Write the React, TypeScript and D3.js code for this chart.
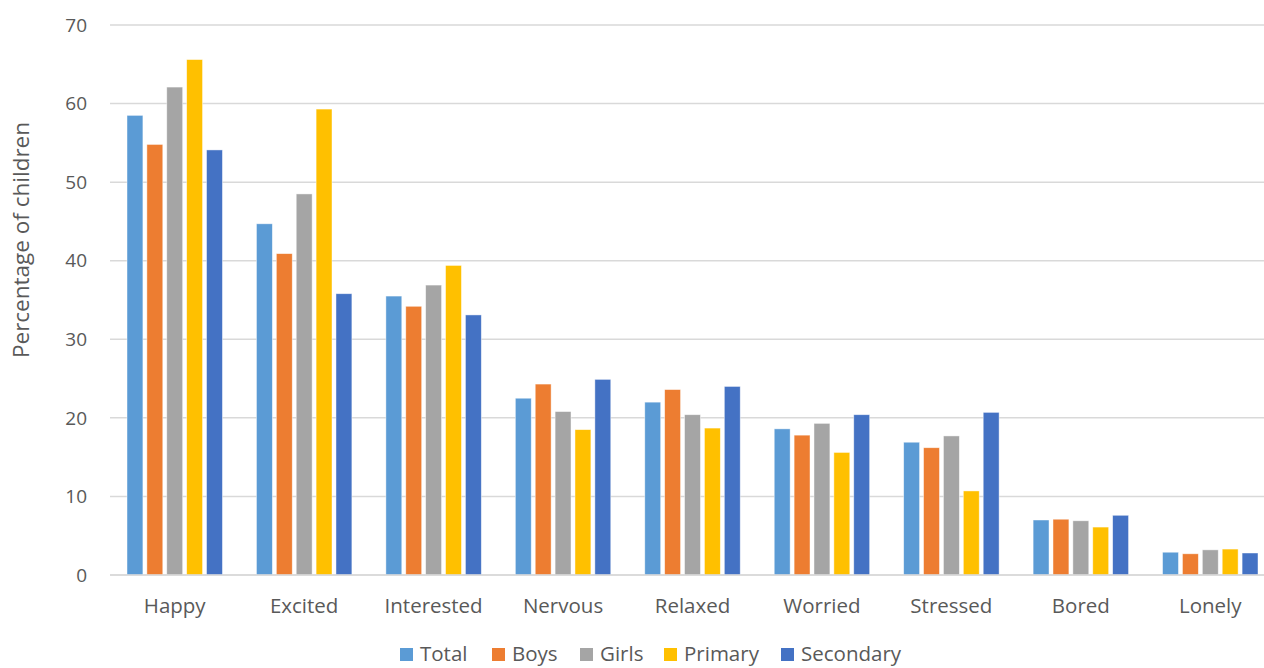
import React from "react";
import * as d3 from "d3";

const categories = ["Happy", "Excited", "Interested", "Nervous", "Relaxed", "Worried", "Stressed", "Bored", "Lonely"];
const seriesNames = ["Total", "Boys", "Girls", "Primary", "Secondary"];
const total = [58.5, 44.7, 35.5, 22.5, 22.0, 18.6, 16.9, 7.0, 2.9];
const boys = [54.8, 40.9, 34.2, 24.3, 23.6, 17.8, 16.2, 7.1, 2.7];
const girls = [62.1, 48.5, 36.9, 20.8, 20.4, 19.3, 17.7, 6.9, 3.2];
const primary = [65.6, 59.3, 39.4, 18.5, 18.7, 15.6, 10.7, 6.1, 3.3];
const secondary = [54.1, 35.8, 33.1, 24.9, 24.0, 20.4, 20.7, 7.6, 2.8];
const colors = ["#5B9BD5", "#ED7D31", "#A5A5A5", "#FFC000", "#4472C4"];
const yTicks = [0, 10, 20, 30, 40, 50, 60, 70];

const seriesValues = [total, boys, girls, primary, secondary];

export default function App() {
  const W = 1264;
  const H = 668;
  const left = 110;
  const right = 1275;
  const top = 25;
  const bottom = 575;
  const font = "'Open Sans', sans-serif";

  const x = d3.scaleBand<string>().domain(categories).range([left, right]).paddingInner(0).paddingOuter(0);
  const y = d3.scaleLinear().domain([0, 70]).range([bottom, top]);
  const groupPad = 17;
  const x1 = d3
    .scaleBand<string>()
    .domain(seriesNames)
    .range([groupPad, x.bandwidth() - groupPad])
    .paddingInner(0.2)
    .paddingOuter(0);

  const legendX = [400, 492, 580, 664, 781];

  return (
    <svg
      width={W}
      height={H}
      style={{ position: "absolute", left: 0, top: 0, display: "block", overflow: "hidden", background: "#fff" }}
    >
      <rect x={0} y={0} width={W} height={H} fill="#fff" />
      {yTicks.map((t) => (
        <g key={t}>
          <line x1={left} x2={W} y1={y(t)} y2={y(t)} stroke="#D9D9D9" strokeWidth={1.5} />
          <text x={87} y={y(t)} dy="0.35em" textAnchor="end" fontFamily={font} fontSize={19} fill="#595959">
            {t}
          </text>
        </g>
      ))}
      {categories.map((c, ci) => (
        <g key={c} transform={`translate(${x(c)},0)`}>
          {seriesNames.map((s, si) => {
            const v = seriesValues[si][ci];
            return (
              <rect
                key={s}
                x={x1(s)}
                y={y(v)}
                width={x1.bandwidth()}
                height={y(0) - y(v)}
                fill={colors[si]}
                stroke="#fff"
                strokeOpacity={0.6}
                strokeWidth={0.75}
              />
            );
          })}
          <text
            x={x.bandwidth() / 2}
            y={613}
            textAnchor="middle"
            fontFamily={font}
            fontSize={20.5}
            fill="#595959"
          >
            {c}
          </text>
        </g>
      ))}
      <line x1={left} x2={W} y1={bottom} y2={bottom} stroke="#D9D9D9" strokeWidth={1.5} />
      <text
        transform={`translate(29,240) rotate(-90)`}
        textAnchor="middle"
        fontFamily={font}
        fontSize={22.5}
        fill="#595959"
      >
        Percentage of children
      </text>
      {seriesNames.map((s, si) => (
        <g key={s} transform={`translate(${legendX[si]},0)`}>
          <rect x={0} y={648} width={13} height={13} fill={colors[si]} />
          <text x={20} y={661} fontFamily={font} fontSize={20.5} fill="#595959">
            {s}
          </text>
        </g>
      ))}
    </svg>
  );
}
